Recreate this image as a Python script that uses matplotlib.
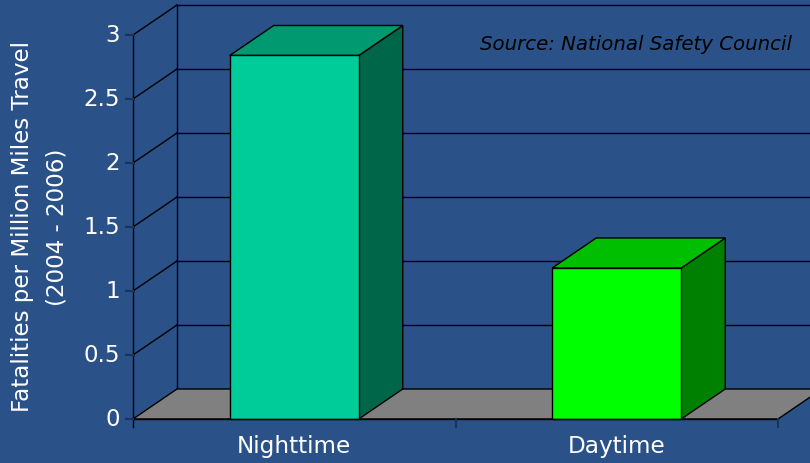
import matplotlib
matplotlib.use("Agg")
import matplotlib.pyplot as plt
from matplotlib.patches import Polygon, Rectangle
import numpy as np

# Fatalities per million miles travelled, 2004 - 2006
categories = ["Nighttime", "Daytime"]
values = [2.84, 1.18]
yticks = [0, 0.5, 1, 1.5, 2, 2.5, 3]
ytick_labels = ["0", "0.5", "1", "1.5", "2", "2.5", "3"]

BG = "#2A5289"
FRONT = ["#00CC99", "#00FF00"]
TOP = ["#009970", "#00BF00"]
SIDE = ["#006649", "#008000"]
FLOOR = "#808080"
TICK = "#1B3358"

# pixel layout of the front plane (810x463 canvas)
W, H = 810, 463
X0_PX, Y0_PX = 133, 419        # left end of the front axis at value 0
PX_X, PX_Y = 322.5, 128.0      # pixels per category / per unit
DX, DY = 44 / PX_X, 30 / PX_Y  # depth offset of the back wall
BAR_W = 0.4
YMAX = 3

fig = plt.figure(figsize=(W / 100, H / 100), dpi=100, facecolor=BG)
ax = fig.add_axes([0, 0, 1, 1])
ax.set_facecolor(BG)
ax.set_xlim(-0.5 - X0_PX / PX_X, -0.5 + (W - X0_PX) / PX_X)
ax.set_ylim(-(H - Y0_PX) / PX_Y, Y0_PX / PX_Y)
ax.axis("off")

xl, xr = -0.5, len(categories) - 0.5

# back wall gridlines and left wall diagonals
for t in yticks[1:]:
    ax.plot([xl + DX, xr + DX + 1], [t + DY, t + DY], color="black", lw=1, zorder=1)
    ax.plot([xl, xl + DX], [t, t + DY], color="black", lw=1, zorder=1)
ax.plot([xl + DX, xl + DX], [DY, YMAX + DY], color="black", lw=1, zorder=1)

# floor
ax.add_patch(Polygon([(xl, 0), (xr, 0), (xr + DX, DY), (xl + DX, DY)],
                     closed=True, facecolor=FLOOR, edgecolor="black", lw=1, zorder=2))
ax.plot([xr + DX, xr + DX + 1], [DY, DY], color="black", lw=1, zorder=2)

# 3D bars
for i, v in enumerate(values):
    a, b = i - BAR_W / 2, i + BAR_W / 2
    ax.add_patch(Polygon([(b, 0), (b + DX, DY), (b + DX, v + DY), (b, v)],
                         closed=True, facecolor=SIDE[i], edgecolor="black", lw=1, zorder=3))
    ax.add_patch(Polygon([(a, v), (b, v), (b + DX, v + DY), (a + DX, v + DY)],
                         closed=True, facecolor=TOP[i], edgecolor="black", lw=1, zorder=3))
    ax.add_patch(Rectangle((a, 0), BAR_W, v, facecolor=FRONT[i],
                           edgecolor="black", lw=1, zorder=4))

# front value axis with ticks
ax.plot([xl, xl], [-8 / PX_Y, YMAX], color="black", lw=1, zorder=5)
ax.plot([xl, xr], [0, 0], color="black", lw=1, zorder=5)
for t, lab in zip(yticks, ytick_labels):
    ax.plot([xl - 7 / PX_X, xl], [t, t], color=TICK, lw=1.5, zorder=5)
    ax.text(xl - 13 / PX_X, t, lab, ha="right", va="center",
            color="white", fontsize=16.5)

# category ticks and labels
for k in range(1, len(categories) + 1):
    ax.plot([xl + k, xl + k], [0, -8 / PX_Y], color=TICK, lw=1.5, zorder=5)
for i, c in enumerate(categories):
    ax.text(i, -28 / PX_Y, c, ha="center", va="center", color="white", fontsize=16.7)

# axis title (two lines)
ax.text(xl - (X0_PX - 22.5) / PX_X, YMAX / 2, "Fatalities per Million Miles Travel",
        rotation=90, ha="center", va="center", color="white", fontsize=16.6)
ax.text(xl - (X0_PX - 57) / PX_X, YMAX / 2, "(2004 - 2006)",
        rotation=90, ha="center", va="center", color="white", fontsize=16.6)

ax.text(xl + (792 - X0_PX) / PX_X, (Y0_PX - 45) / PX_Y, "Source: National Safety Council",
        ha="right", va="center", color="black", fontsize=14.2, style="italic")

fig.savefig("out.png", dpi=100, facecolor=BG)
